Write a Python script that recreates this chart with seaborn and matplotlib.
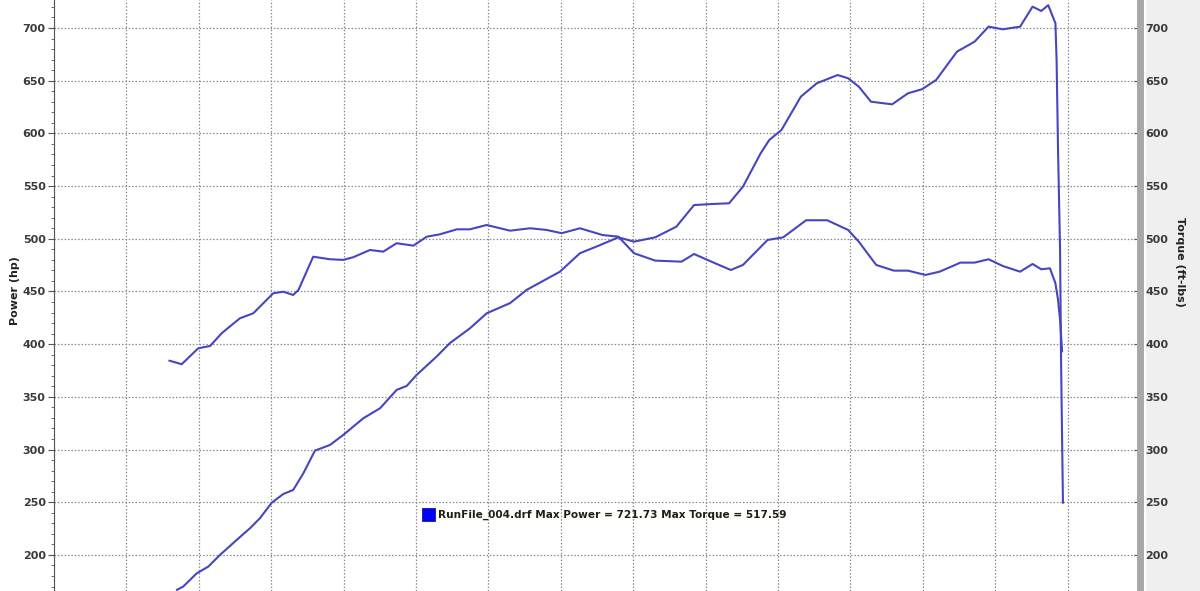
import numpy as np
import pandas as pd
import matplotlib
matplotlib.use("Agg")
import matplotlib.pyplot as plt
from matplotlib.patches import Rectangle
from matplotlib.ticker import MultipleLocator
import seaborn as sns

# ---- data (engine speed, rpm; power hp; torque ft-lbs) ----
power_rpm = [2424, 2446, 2493, 2533, 2573, 2631, 2677, 2711, 2752, 2792, 2826, 2861,
             2901, 2953, 2999, 3068, 3126, 3183, 3218, 3252, 3321, 3367, 3436, 3494,
             3575, 3632, 3747, 3816, 3885, 3949, 4003, 4076, 4149, 4210, 4270, 4331,
             4379, 4440, 4470, 4512, 4579, 4634, 4706, 4742, 4779, 4821, 4894, 4949,
             4997, 5046, 5118, 5179, 5227, 5276, 5336, 5379, 5409, 5433, 5458, 5462,
             5467, 5474, 5477, 5481, 5484]
power_hp = [166.8, 170.0, 182.6, 189.0, 200.0, 214.3, 225.4, 234.8, 249.6, 257.9, 261.7, 277.5,
            299.0, 304.4, 313.9, 329.7, 339.2, 356.6, 360.4, 370.8, 388.2, 401.0, 415.0, 429.3,
            439.0, 451.5, 468.8, 486.3, 494.0, 501.4, 497.3, 501.4, 511.5, 532.0, 533.0, 533.7,
            549.5, 581.1, 593.8, 603.3, 634.9, 647.6, 655.4, 652.3, 644.4, 630.1, 627.6, 638.1,
            641.9, 650.7, 677.6, 687.1, 701.3, 698.8, 701.3, 720.3, 716.2, 721.7, 704.5, 669.7,
            584.3, 489.4, 394.5, 309.0, 249.4]

torque_rpm = [2398, 2441, 2498, 2539, 2579, 2642, 2688, 2757, 2792, 2826, 2844, 2895,
              2953, 2999, 3033, 3091, 3137, 3183, 3241, 3287, 3333, 3391, 3436, 3494,
              3575, 3644, 3701, 3753, 3816, 3894, 3949, 4003, 4076, 4167, 4210, 4270,
              4337, 4379, 4464, 4518, 4597, 4670, 4742, 4779, 4839, 4900, 4949, 5009,
              5058, 5130, 5179, 5227, 5276, 5336, 5379, 5409, 5439, 5458, 5467, 5474, 5481]
torque_ftlb = [384.4, 381.0, 396.1, 398.3, 410.4, 424.6, 429.3, 448.3, 449.8, 446.7, 451.4, 483.0,
               480.6, 480.0, 482.5, 489.4, 487.8, 495.8, 493.5, 502.0, 504.3, 509.0, 509.0, 513.1,
               507.7, 510.0, 508.4, 505.3, 510.0, 503.6, 502.0, 486.3, 479.3, 478.3, 485.6, 478.3,
               470.4, 475.2, 498.9, 501.4, 517.6, 517.6, 508.4, 497.3, 475.2, 469.8, 469.8, 465.7,
               468.8, 477.4, 477.4, 480.6, 474.2, 468.8, 476.1, 471.1, 472.0, 457.8, 442.0, 423.0, 393.0]

y_ticks = [200, 250, 300, 350, 400, 450, 500, 550, 600, 650, 700]
legend_text = "RunFile_004.drf Max Power = 721.73 Max Torque = 517.59"
left_label = "Power (hp)"
right_label = "Torque (ft-lbs)"

power_df = pd.DataFrame({"rpm": power_rpm, "value": power_hp})
torque_df = pd.DataFrame({"rpm": torque_rpm, "value": torque_ftlb})

# ---- styling ----
sns.set_style("white")
plt.rcParams["font.family"] = ["DejaVu Sans"]

line_color = "#4646c0"
label_color = "#3a3a3a"

fig = plt.figure(figsize=(12, 5.91), dpi=100, facecolor="white")
# light gray panel behind the right axis labels
fig.patches.append(Rectangle((1146 / 1200, 0), 1 - 1146 / 1200, 1,
                             transform=fig.transFigure, facecolor="#efefef",
                             edgecolor="none", zorder=-10))

ax = fig.add_axes([54 / 1200, 0.0, (1140 - 54) / 1200, 1.0])
ax.set_facecolor("white")
ax2 = ax.twinx()

sns.lineplot(data=power_df, x="rpm", y="value", ax=ax, color=line_color,
             linewidth=1.5, sort=False, estimator=None)
sns.lineplot(data=torque_df, x="rpm", y="value", ax=ax2, color=line_color,
             linewidth=1.5, sort=False, estimator=None)

ylim = (165.8, 726.6)
for a in (ax, ax2):
    a.set_ylim(*ylim)
    a.set_xlim(2000, 5750)
    a.set_yticks(y_ticks)
    a.yaxis.set_minor_locator(MultipleLocator(10))
    a.set_xlabel("")
    a.set_ylabel("")
    a.tick_params(axis="x", bottom=False, labelbottom=False, top=False)
    for s in ("top", "bottom"):
        a.spines[s].set_visible(False)

ax.xaxis.set_major_locator(MultipleLocator(250))
ax.grid(True, which="major", color="#8a8a8a", linestyle=(0, (1.2, 1.5)), linewidth=0.9)
ax2.grid(False)

ax.set_yticklabels([str(t) for t in y_ticks], fontsize=8, fontweight="bold", color=label_color)
ax2.set_yticklabels([str(t) for t in y_ticks], fontsize=8, fontweight="bold", color=label_color)
ax.tick_params(axis="y", which="major", length=4, width=0.8, color="#555555", pad=2, left=True)
ax.tick_params(axis="y", which="minor", length=2, width=0.6, color="#555555", left=True)
ax2.tick_params(axis="y", which="major", length=4, width=0.8, color="#555555", pad=4, right=True,
                labelright=True, direction="in")
ax2.tick_params(axis="y", which="minor", length=2, width=0.6, color="#555555", right=True,
                direction="in")

ax.spines["left"].set_color("#555555")
ax.spines["left"].set_linewidth(0.8)
ax.spines["right"].set_visible(False)
ax2.spines["left"].set_visible(False)
ax2.spines["right"].set_color("#a8a8a8")
ax2.spines["right"].set_linewidth(5)

fig.text(15 / 1200, 1 - 291 / 591, left_label, rotation=90, ha="center", va="center",
         fontsize=8, fontweight="bold", color="#222222")
fig.text(1180 / 1200, 1 - 262 / 591, right_label, rotation=-90, ha="center", va="center",
         fontsize=8, fontweight="bold", color="#222222")

# legend-like annotation
fig.patches.append(Rectangle((422 / 1200, 1 - 521 / 591), 13 / 1200, 13 / 591,
                             transform=fig.transFigure, facecolor="#0000ff",
                             edgecolor="#000080", linewidth=0.5, zorder=5))
fig.text(438 / 1200, 1 - 514.5 / 591, legend_text, ha="left", va="center",
         fontsize=7.6, fontweight="bold", color="#1e2010")

fig.savefig("out.png", dpi=100, facecolor=fig.get_facecolor())
